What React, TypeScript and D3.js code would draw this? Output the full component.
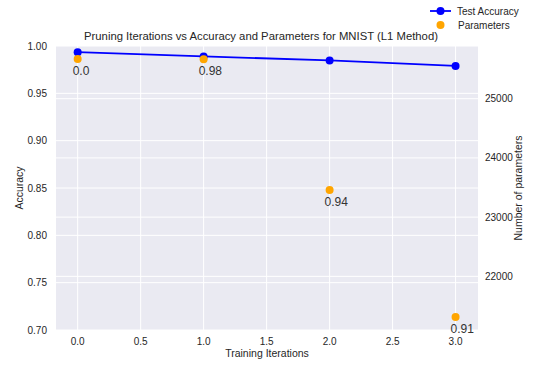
import * as d3 from "d3";

const iterations = [0, 1, 2, 3];
const accuracy = [0.9935, 0.989, 0.9848, 0.979];
const parameters = [25672, 25668, 23460, 21312];
const paramLabels = ["0.0", "0.98", "0.94", "0.91"];
const accTicks = [0.7, 0.75, 0.8, 0.85, 0.9, 0.95, 1.0];
const paramTicks = [22000, 23000, 24000, 25000];
const xTicks = [0, 0.5, 1, 1.5, 2, 2.5, 3];

function App() {
    const width = 534;
    const height = 366;
    const plot = {left: 56, right: 478, top: 46, bottom: 330};
    const font = "'Liberation Sans', Arial, sans-serif";
    const textColor = "#262626";

    const x = d3.scaleLinear().domain([-0.172, 3.178]).range([plot.left, plot.right]);
    const yAcc = d3.scaleLinear().domain([0.7, 1.0]).range([plot.bottom, plot.top]);
    const yPar = d3.scaleLinear().domain([21094, 25890]).range([plot.bottom, plot.top]);

    const line = d3.line<number>()
        .x((d, i) => x(iterations[i]))
        .y(d => yAcc(d));

    return (
        <svg width={width} height={height} style={{position: "absolute", left: 0, top: 0}}
             fontFamily={font}>
            <rect x={0} y={0} width={width} height={height} fill="white"/>
            <rect x={plot.left} y={plot.top} width={plot.right - plot.left} height={plot.bottom - plot.top}
                  fill="#EAEAF2"/>
            {/* grid */}
            {xTicks.map(t =>
                <line key={"gx" + t} x1={x(t)} x2={x(t)} y1={plot.top} y2={plot.bottom} stroke="white" strokeWidth={1}/>
            )}
            {accTicks.map(t =>
                <line key={"ga" + t} x1={plot.left} x2={plot.right} y1={yAcc(t)} y2={yAcc(t)} stroke="white" strokeWidth={1}/>
            )}
            {paramTicks.map(t =>
                <line key={"gp" + t} x1={plot.left} x2={plot.right} y1={yPar(t)} y2={yPar(t)} stroke="white" strokeWidth={1}/>
            )}

            {/* accuracy line */}
            <path d={line(accuracy) || ""} fill="none" stroke="#0000FF" strokeWidth={1.8}/>
            {accuracy.map((a, i) =>
                <circle key={"a" + i} cx={x(iterations[i])} cy={yAcc(a)} r={4} fill="#0000FF"/>
            )}

            {/* parameters */}
            {parameters.map((p, i) =>
                <circle key={"p" + i} cx={x(iterations[i])} cy={yPar(p)} r={4} fill="#FFA500"/>
            )}
            {parameters.map((p, i) =>
                <text key={"pl" + i} x={x(iterations[i]) - 5} y={yPar(p) + 16} fontSize={12} fill="#333">
                    {paramLabels[i]}
                </text>
            )}

            {/* axes ticks */}
            {xTicks.map(t =>
                <text key={"tx" + t} x={x(t)} y={345} fontSize={10} fill={textColor} textAnchor="middle">
                    {d3.format(".1f")(t)}
                </text>
            )}
            {accTicks.map(t =>
                <text key={"ta" + t} x={47} y={yAcc(t) + 3.5} fontSize={10} fill={textColor} textAnchor="end">
                    {d3.format(".2f")(t)}
                </text>
            )}
            {paramTicks.map(t =>
                <text key={"tp" + t} x={485} y={yPar(t) + 3.5} fontSize={10} fill={textColor} textAnchor="start">
                    {t}
                </text>
            )}

            {/* axis labels */}
            <text x={(plot.left + plot.right) / 2} y={357} fontSize={10.5} fill={textColor} textAnchor="middle">
                Training Iterations
            </text>
            <text transform={`translate(23, ${(plot.top + plot.bottom) / 2}) rotate(-90)`} fontSize={10.5}
                  fill={textColor} textAnchor="middle">Accuracy</text>
            <text transform={`translate(522, ${(plot.top + plot.bottom) / 2}) rotate(-90)`} fontSize={10.5}
                  fill={textColor} textAnchor="middle">Number of parameters</text>

            {/* title */}
            <text x={261} y={40} fontSize={11.3} fill={textColor} textAnchor="middle">
                Pruning Iterations vs Accuracy and Parameters for MNIST (L1 Method)
            </text>

            {/* legend */}
            <line x1={430} x2={451} y1={11} y2={11} stroke="#0000FF" strokeWidth={1.8}/>
            <circle cx={440.5} cy={11} r={4} fill="#0000FF"/>
            <text x={457} y={15} fontSize={10} fill={textColor}>Test Accuracy</text>
            <circle cx={440.5} cy={25} r={4} fill="#FFA500"/>
            <text x={458} y={29} fontSize={10} fill={textColor}>Parameters</text>
        </svg>
    );
}

export default App;
